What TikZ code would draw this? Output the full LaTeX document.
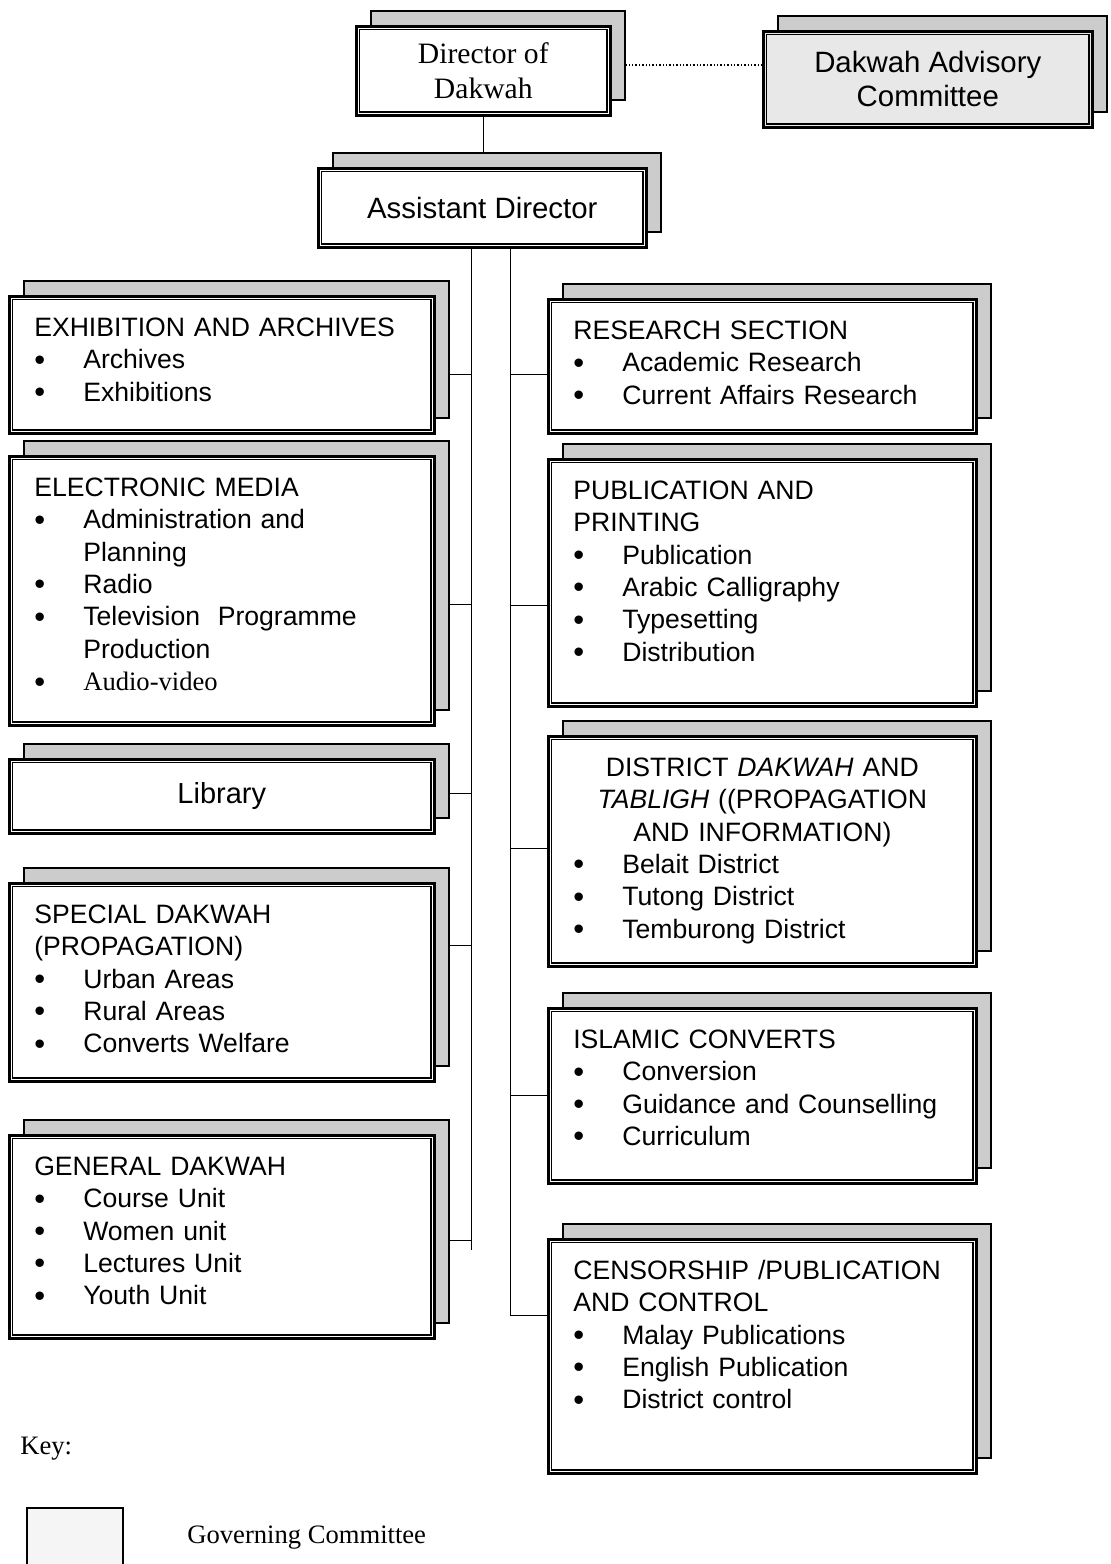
\documentclass[tikz,border=0pt]{standalone}
\usepackage{fontspec}
\setmainfont{Liberation Serif}
\setsansfont{Liberation Sans}
\usetikzlibrary{shadows,backgrounds}

\newcommand{\unitfont}{\sffamily\fontsize{13.3pt}{16.2pt}\selectfont}
\newcommand{\itm}{\makebox[24.5pt][l]{\raisebox{-0.7pt}{\fontsize{15.5pt}{0pt}\selectfont\textbullet}}}
\newcommand{\cont}{\hspace*{24.5pt}}

\tikzset{
  box/.style={draw, line width=1.3pt, fill=white, anchor=north west, inner sep=0pt,
    general shadow={shadow xshift=7.5pt, shadow yshift=7.5pt, fill=gray!40, draw=black, line width=1.1pt}},
  head/.style={box, align=center, font=\sffamily\fontsize{14.7pt}{17pt}\selectfont},
  unit/.style={box, inner xsep=12.5pt, text height=20pt, text depth=#1, font=\unitfont, align=left},
  lunit/.style={unit=#1, text width=187.5pt},
  runit/.style={unit=#1, text width=189pt},
  link/.style={line width=1.1pt}
}

\begin{document}
\begin{tikzpicture}[x=0.5pt, y=-0.5pt]
\useasboundingbox (0,0) rectangle (1111,1564);

% top of the chart
\node[box, align=center, font=\rmfamily\fontsize{14.8pt}{17.5pt}\selectfont,
  minimum width=127pt, minimum height=44.5pt] (dir) at (355,25) {Director of\\ Dakwah};
\node[head, fill=gray!18, minimum width=164.5pt, minimum height=48pt] (adv) at (762,30)
  {Dakwah Advisory\\ Committee};
\node[head, minimum width=164pt, minimum height=39.5pt] (asst) at (317,167) {Assistant Director};

% left column
\node[lunit=48.5pt] (exh) at (8,295) {EXHIBITION AND ARCHIVES\\
  \itm Archives\\ \itm Exhibitions};
\node[lunit=114.5pt] (elec) at (8,455) {ELECTRONIC MEDIA\\
  \itm Administration and\\ \cont Planning\\
  \itm Radio\\
  \itm Television~ Programme\\ \cont Production\\
  \itm {\rmfamily Audio-video}};
\node[head, font=\sffamily\fontsize{14.5pt}{17pt}\selectfont,
  minimum width=212.5pt, minimum height=37pt] (lib) at (8,758) {Library};
\node[lunit=79pt] (spec) at (8,882) {SPECIAL DAKWAH\\ (PROPAGATION)\\
  \itm Urban Areas\\ \itm Rural Areas\\ \itm Converts Welfare};
\node[lunit=81.5pt] (gen) at (8,1134) {GENERAL DAKWAH\\
  \itm Course Unit\\ \itm Women unit\\ \itm Lectures Unit\\ \itm Youth Unit};

% right column
\node[runit=47pt] (res) at (547,298) {RESEARCH SECTION\\
  \itm Academic Research\\ \itm Current Affairs Research};
\node[runit=103.5pt] (pub) at (547,458) {PUBLICATION AND\\ PRINTING\\
  \itm Publication\\ \itm Arabic Calligraphy\\ \itm Typesetting\\ \itm Distribution};
\node[runit=95pt] (dist) at (547,735) {{\centering DISTRICT \textit{DAKWAH} AND\\
  \textit{TABLIGH} ((PROPAGATION\\ AND INFORMATION)\par}
  \itm Belait District\\ \itm Tutong District\\ \itm Temburong District};
\node[runit=67.5pt] (conv) at (547,1007) {ISLAMIC CONVERTS\\
  \itm Conversion\\ \itm Guidance and Counselling\\ \itm Curriculum};
\node[runit=97pt] (cens) at (547,1238) {CENSORSHIP /PUBLICATION\\ AND CONTROL\\
  \itm Malay Publications\\ \itm English Publication\\ \itm District control};

% inner line of the double frames
\foreach \n in {dir,adv,asst,exh,elec,lib,spec,gen,res,pub,dist,conv,cens}
  \draw[line width=0.7pt] ([shift={(2.3pt,-2.3pt)}]\n.north west)
    rectangle ([shift={(-2.3pt,2.3pt)}]\n.south east);

\coordinate (ltop) at (471,246);
\coordinate (lbot) at (471,1250);
\coordinate (rtop) at (510,246);
\coordinate (rbot) at (510,1316);

\begin{scope}[on background layer, link]
  \draw (dir.south) -- (dir.south |- asst.north);
  \draw[densely dotted, line width=0.7pt] (dir.east |- 0,65) -- (adv.west |- 0,65);
  \draw (ltop) -- (lbot);
  \draw (rtop) -- (rbot);
  \foreach \n/\y in {exh/374,elec/604,lib/793,spec/945,gen/1240}
    \draw (\n.east |- 0,\y) -- (ltop |- 0,\y);
  \foreach \n/\y in {res/374,pub/605,dist/848,conv/1095,cens/1315}
    \draw (rtop |- 0,\y) -- (\n.west |- 0,\y);
\end{scope}

% key
\node[font=\fontsize{13.3pt}{16pt}\selectfont, anchor=base west, inner sep=0pt] (key) at (20,1454) {Key:};
\filldraw[line width=1.3pt, fill=gray!8] (27,1564) |- (123,1508) -- (123,1564);
\node[font=\fontsize{13.3pt}{16pt}\selectfont, anchor=base west, inner sep=0pt] (gov) at (187,1543)
  {Governing Committee};
\end{tikzpicture}
\end{document}
